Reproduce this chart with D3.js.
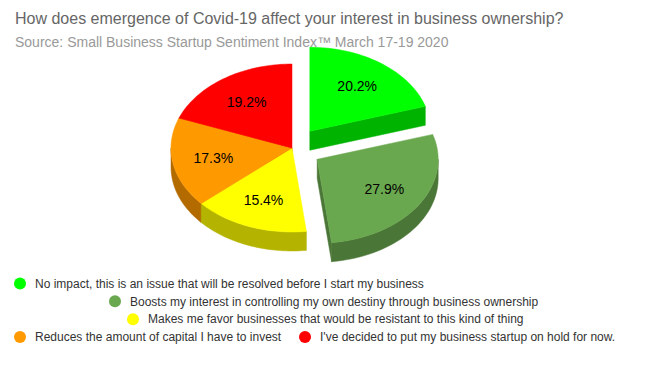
<!DOCTYPE html>
<html lang="en">
<head>
<meta charset="UTF-8">
<title>Covid-19 and business ownership</title>
<script src="https://d3js.org/d3.v7.min.js"></script>
<style>
    body { margin: 0; background: #fff; }
    svg text { font-family: "Liberation Sans", Arial, sans-serif; }
    .title { font-size: 16px; fill: #666; }
    .subtitle { font-size: 14px; fill: #999; }
    .legend text { font-size: 12px; fill: #333; }
    .label { font-size: 14px; fill: #000; }
</style>
</head>
<body>
<svg width="659" height="371"></svg>
<script>
    const categories = [
        "No impact, this is an issue that will be resolved before I start my business",
        "Boosts my interest in controlling my own destiny through business ownership",
        "Makes me favor businesses that would be resistant to this kind of thing",
        "Reduces the amount of capital I have to invest",
        "I've decided to put my business startup on hold for now."
    ];
    const values = [20.2, 27.9, 15.4, 17.3, 19.2];
    const colors = ["#00ff00", "#6aa84f", "#ffff00", "#ff9900", "#ff0000"];
    const sliced = [true, true, false, false, false];

    // legend layout (row and circle x for each item)
    const legendRow = [0, 1, 2, 3, 3];
    const legendX = [20, 115, 133, 20, 305];

    const svg = d3.select("svg");

    svg.append("text").attr("class", "title")
        .attr("x", 15).attr("y", 24)
        .text("How does emergence of Covid-19 affect your interest in business ownership?");
    svg.append("text").attr("class", "subtitle")
        .attr("x", 15).attr("y", 47)
        .text("Source: Small Business Startup Sentiment Index\u2122 March 17-19 2020");

    // 3D pie geometry
    const cx = 292, cy = 148, rx = 121, tilt = 0.694, depth = 19, pull = 30;

    const pie = d3.pie().sort(null).value(d => d.v);
    const arcs = pie(values.map((v, i) => ({ v, i })));

    // projection of a point on the pie plane (angle clockwise from 12 o'clock)
    const proj = (a, r, ox, oy, z) => [ox + r * Math.sin(a), oy - r * Math.cos(a) * tilt + z];

    const line = d3.line();
    const sample = (a0, a1) => d3.range(0, 41).map(k => a0 + (a1 - a0) * k / 40);

    arcs.forEach(d => {
        const mid = (d.startAngle + d.endAngle) / 2;
        const off = sliced[d.data.i] ? pull : 0;
        d.ox = cx + off * Math.sin(mid);
        d.oy = cy - off * Math.cos(mid) * tilt;
        d.mid = mid;
        d.color = colors[d.data.i];
        d.side = d3.color(d.color).darker(1).toString();
    });

    const sides = svg.append("g");
    const tops = svg.append("g");
    const labels = svg.append("g");

    const sideShapes = [];
    arcs.forEach(d => {
        const a1 = d.startAngle, a2 = d.endAngle;
        // radial faces
        [[a1, -Math.sin(a1)], [a2, Math.sin(a2)]].forEach(([a, vis]) => {
            if (vis <= 1e-6) return;
            const p = proj(a, rx, d.ox, d.oy, 0);
            const pts = [[d.ox, d.oy], p, [p[0], p[1] + depth], [d.ox, d.oy + depth]];
            sideShapes.push({ pts, color: d.side, y: (d.oy + p[1]) / 2 });
        });
        // outer wall, visible part between 90 and 270 degrees
        const s = Math.max(a1, Math.PI / 2), e = Math.min(a2, 3 * Math.PI / 2);
        if (e > s) {
            const topPts = sample(s, e).map(a => proj(a, rx, d.ox, d.oy, 0));
            const botPts = sample(e, s).map(a => proj(a, rx, d.ox, d.oy, depth));
            sideShapes.push({ pts: topPts.concat(botPts), color: d.side, y: d3.max(topPts, p => p[1]) });
        }
    });

    sides.selectAll("path")
        .data(sideShapes.sort((a, b) => a.y - b.y))
        .join("path")
        .attr("d", d => line(d.pts) + "Z")
        .attr("fill", d => d.color)
        .attr("stroke", d => d.color)
        .attr("stroke-width", 0.5);

    tops.selectAll("path")
        .data(arcs)
        .join("path")
        .attr("d", d => line([[d.ox, d.oy]].concat(sample(d.startAngle, d.endAngle).map(a => proj(a, rx, d.ox, d.oy, 0)))) + "Z")
        .attr("fill", d => d.color)
        .attr("stroke", d => d.color)
        .attr("stroke-width", 0.5);

    labels.selectAll("text")
        .data(arcs)
        .join("text")
        .attr("class", "label")
        .attr("text-anchor", "middle")
        .attr("dy", "0.35em")
        .attr("x", d => proj(d.mid, 80, d.ox, d.oy, 0)[0])
        .attr("y", d => proj(d.mid, 80, d.ox, d.oy, 0)[1])
        .text(d => d.data.v.toFixed(1) + "%");

    // legend
    const rowY = d3.scaleLinear().domain([0, 3]).range([283.5, 337]);
    const legend = svg.append("g").attr("class", "legend");
    const items = legend.selectAll("g")
        .data(categories)
        .join("g")
        .attr("transform", (d, i) => `translate(${legendX[i]},${rowY(legendRow[i])})`);
    items.append("circle").attr("r", 6).attr("fill", (d, i) => colors[i]);
    items.append("text").attr("x", 15).attr("dy", "0.35em").text(d => d);
</script>
</body>
</html>
